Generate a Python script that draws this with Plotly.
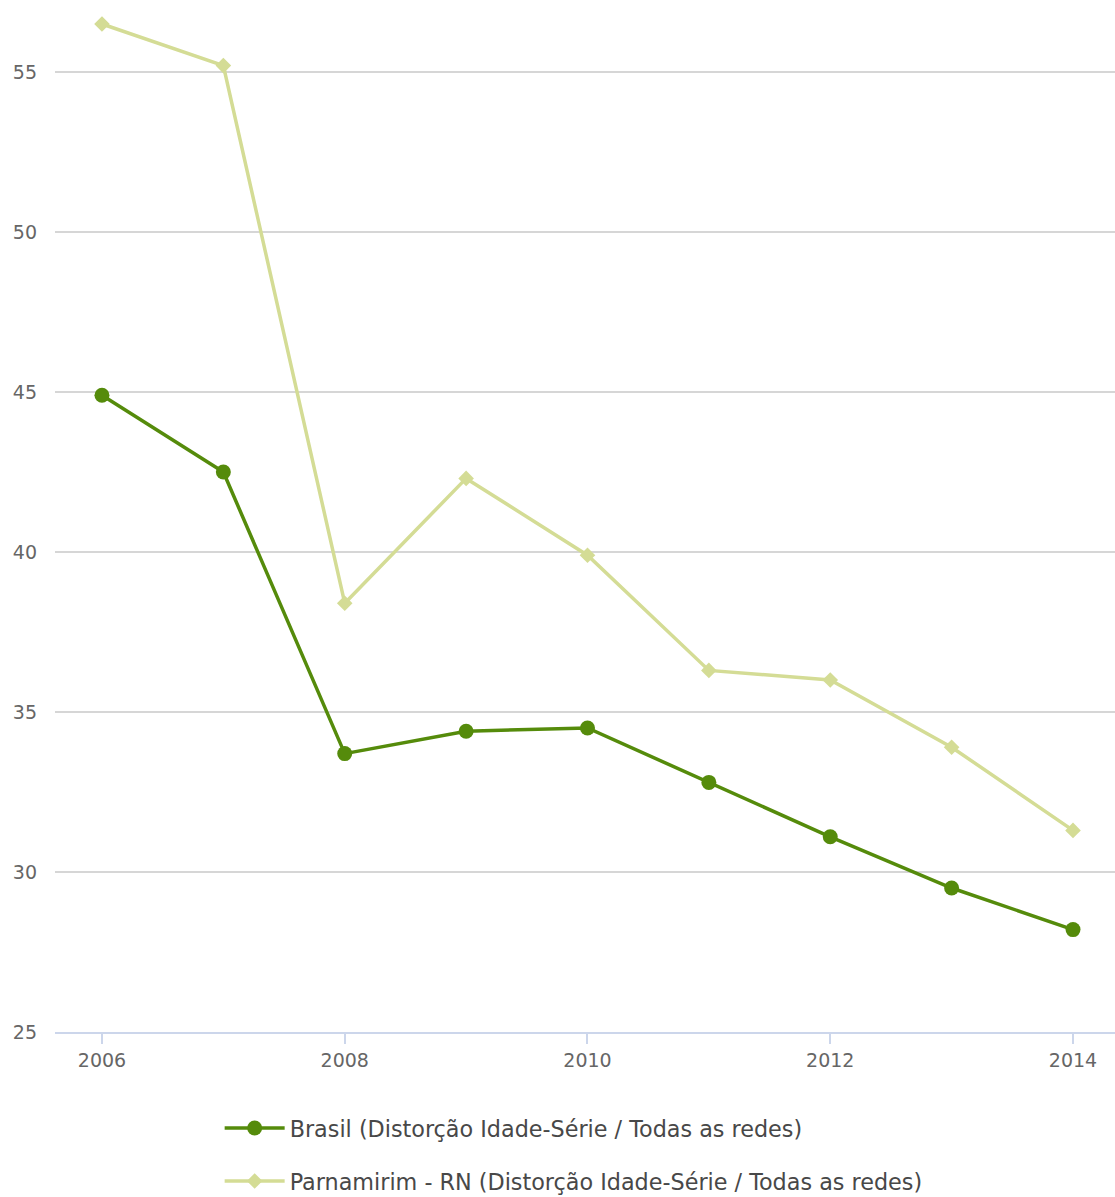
import plotly.graph_objects as go

years = [2006, 2007, 2008, 2009, 2010, 2011, 2012, 2013, 2014]
brasil = [44.9, 42.5, 33.7, 34.4, 34.5, 32.8, 31.1, 29.5, 28.2]
parnamirim = [56.5, 55.2, 38.4, 42.3, 39.9, 36.3, 36.0, 33.9, 31.3]

name_brasil = "Brasil (Distorção Idade-Série / Todas as redes)"
name_parnamirim = "Parnamirim - RN (Distorção Idade-Série / Todas as redes)"

x_ticks = [2006, 2008, 2010, 2012, 2014]
y_ticks = [25, 30, 35, 40, 45, 50, 55]

dark_green = "#558b0b"
light_green = "#d4dc95"
font_family = "DejaVu Sans, Verdana, sans-serif"

fig = go.Figure()
fig.add_trace(go.Scatter(
    x=years, y=parnamirim, name=name_parnamirim, mode="lines+markers",
    line=dict(color=light_green, width=3.5),
    marker=dict(symbol="diamond", size=12, color=light_green),
    legend="legend2",
))
fig.add_trace(go.Scatter(
    x=years, y=brasil, name=name_brasil, mode="lines+markers",
    line=dict(color=dark_green, width=3.5),
    marker=dict(symbol="circle", size=15, color=dark_green),
    legend="legend",
))

legend_common = dict(
    xref="container", yref="container", xanchor="left", yanchor="middle",
    font=dict(family=font_family, size=22.3, color="#484848"),
    bgcolor="rgba(0,0,0,0)", itemwidth=60,
)

fig.update_layout(
    width=1115, height=1197,
    margin=dict(l=55, r=0, t=8, b=165, autoexpand=False),
    plot_bgcolor="white", paper_bgcolor="white",
    font=dict(family=font_family, size=19, color="#666666"),
    showlegend=True,
    legend=dict(x=0.197, y=1 - 1128 / 1197, **legend_common),
    legend2=dict(x=0.197, y=1 - 1181 / 1197, **legend_common),
    xaxis=dict(
        range=[2005.613, 2014.346], tickvals=x_ticks,
        ticktext=[str(v) for v in x_ticks],
        showgrid=False, zeroline=False,
        showline=True, linecolor="#ccd6eb", linewidth=2,
        ticks="outside", ticklen=10, tickcolor="#ccd6eb", tickwidth=2,
        tickangle=0,
        tickfont=dict(size=19, color="#666666"),
    ),
    yaxis=dict(
        range=[25, 57], tickvals=y_ticks,
        ticktext=[str(v) for v in y_ticks],
        showgrid=True, gridcolor="#d6d6d6", gridwidth=1.5,
        zeroline=False, showline=False, ticks="",
        ticklabelstandoff=17,
        tickfont=dict(size=19, color="#666666"),
    ),
)

fig.write_html("out.html")
